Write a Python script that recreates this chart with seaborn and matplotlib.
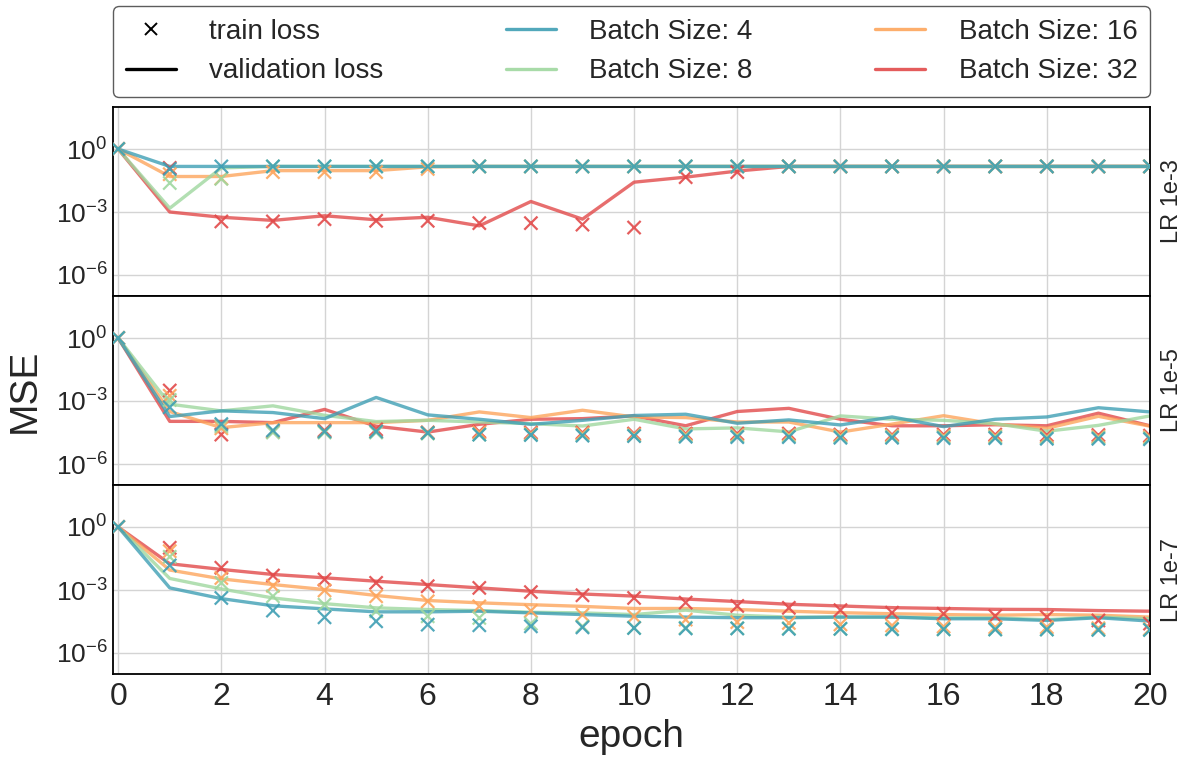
import numpy as np
import pandas as pd
import matplotlib
matplotlib.use("Agg")
import matplotlib.pyplot as plt
from matplotlib.lines import Line2D
import matplotlib.ticker as mticker
import seaborn as sns

# ---------------- data (log10 of MSE) ----------------
epochs = list(range(21))
batch_sizes = ["4", "8", "16", "32"]
lr_labels = ["LR 1e-3", "LR 1e-5", "LR 1e-7"]

# LR 1e-3
val_lr3_bs4 = [0, -0.83, -0.83, -0.83, -0.83, -0.83, -0.83, -0.83, -0.83, -0.83, -0.83,
               -0.83, -0.83, -0.83, -0.83, -0.83, -0.83, -0.83, -0.83, -0.83, -0.83]
val_lr3_bs8 = [0, -2.82, -0.9, -0.83, -0.83, -0.83, -0.83, -0.83, -0.83, -0.83, -0.83,
               -0.83, -0.83, -0.83, -0.83, -0.83, -0.83, -0.83, -0.83, -0.83, -0.83]
val_lr3_bs16 = [0, -1.31, -1.31, -1.03, -1.03, -1.03, -0.85, -0.83, -0.83, -0.83, -0.83,
                -0.83, -0.83, -0.83, -0.83, -0.83, -0.83, -0.83, -0.83, -0.83, -0.83]
val_lr3_bs32 = [0, -3.0, -3.25, -3.4, -3.18, -3.37, -3.25, -3.66, -2.5, -3.34, -1.58,
                -1.34, -1.05, -0.83, -0.83, -0.83, -0.83, -0.83, -0.83, -0.83, -0.83]
train_lr3_bs4 = [0, -0.95, -0.83, -0.83, -0.83, -0.83, -0.83, -0.83, -0.83, -0.83, -0.83,
                 -0.83, -0.83, -0.83, -0.83, -0.83, -0.83, -0.83, -0.83, -0.83, -0.83]
train_lr3_bs8 = [0, -1.62, -1.42, -0.83, -0.83, -0.83, -0.83, -0.83, -0.83, -0.83, -0.83,
                 -0.83, -0.83, -0.83, -0.83, -0.83, -0.83, -0.83, -0.83, -0.83, -0.83]
train_lr3_bs16 = [0, -1.2, -1.4, -1.1, -1.1, -1.1, -0.95, -0.83, -0.83, -0.83, -0.83,
                  -0.83, -0.83, -0.83, -0.83, -0.83, -0.83, -0.83, -0.83, -0.83, -0.83]
train_lr3_bs32 = [0, -0.9, -3.45, -3.45, -3.34, -3.42, -3.42, -3.53, -3.53, -3.6, -3.74,
                  -1.34, -1.1, -0.83, -0.83, -0.83, -0.83, -0.83, -0.83, -0.83, -0.83]

# LR 1e-5
val_lr5_bs4 = [0, -3.74, -3.47, -3.55, -3.84, -2.83, -3.66, -3.87, -4.11, -3.92, -3.69,
               -3.63, -4.06, -3.9, -4.14, -3.76, -4.22, -3.87, -3.76, -3.32, -3.52]
val_lr5_bs8 = [0, -3.15, -3.47, -3.23, -3.68, -3.98, -3.92, -4.0, -4.08, -4.19, -3.87,
               -4.33, -4.28, -4.47, -3.71, -3.87, -3.92, -4.08, -4.44, -4.16, -3.71]
val_lr5_bs16 = [0, -3.5, -4.27, -4.03, -4.03, -4.03, -3.92, -3.52, -3.79, -3.44, -3.76,
                -3.79, -4.0, -4.0, -4.48, -4.1, -3.7, -4.1, -4.3, -3.73, -4.2]
val_lr5_bs32 = [0, -3.97, -3.97, -4.03, -3.4, -4.2, -4.48, -4.11, -3.87, -3.84, -3.71,
                -4.18, -3.5, -3.35, -3.87, -4.18, -4.18, -4.13, -4.18, -3.58, -4.18]
train_lr5_bs4 = [0, -3.3, -4.1, -4.4, -4.45, -4.45, -4.52, -4.6, -4.62, -4.65, -4.67,
                 -4.7, -4.72, -4.72, -4.75, -4.75, -4.77, -4.77, -4.8, -4.8, -4.82]
train_lr5_bs8 = [0, -2.95, -4.2, -4.5, -4.5, -4.5, -4.55, -4.6, -4.6, -4.62, -4.65,
                 -4.65, -4.67, -4.67, -4.7, -4.7, -4.72, -4.72, -4.75, -4.75, -4.77]
train_lr5_bs16 = [0, -2.75, -4.3, -4.45, -4.45, -4.45, -4.5, -4.5, -4.55, -4.55, -4.6,
                  -4.6, -4.62, -4.62, -4.65, -4.65, -4.67, -4.67, -4.7, -4.7, -4.72]
train_lr5_bs32 = [0, -2.5, -4.6, -4.45, -4.4, -4.35, -4.5, -4.45, -4.5, -4.5, -4.55,
                  -4.55, -4.55, -4.55, -4.6, -4.6, -4.6, -4.6, -4.62, -4.62, -4.65]

# LR 1e-7
val_lr7_bs4 = [0, -2.9, -3.41, -3.75, -3.9, -4.04, -4.04, -4.01, -4.09, -4.17, -4.25,
               -4.29, -4.32, -4.32, -4.29, -4.29, -4.37, -4.37, -4.45, -4.32, -4.48]
val_lr7_bs8 = [0, -2.45, -2.95, -3.38, -3.65, -3.85, -3.93, -3.98, -4.06, -4.09, -4.17,
               -3.96, -4.2, -4.29, -4.29, -4.29, -4.33, -4.33, -4.41, -4.29, -4.37]
val_lr7_bs16 = [0, -2.05, -2.47, -2.74, -2.98, -3.26, -3.5, -3.61, -3.7, -3.78, -3.88,
                -3.88, -3.93, -4.01, -4.08, -4.13, -4.17, -4.2, -4.17, -4.2, -4.29]
val_lr7_bs32 = [0, -1.75, -2.02, -2.26, -2.42, -2.58, -2.74, -2.9, -3.06, -3.19, -3.29,
                -3.43, -3.55, -3.68, -3.76, -3.84, -3.88, -3.92, -3.93, -3.98, -4.01]
train_lr7_bs4 = [0, -1.83, -3.38, -3.98, -4.3, -4.49, -4.65, -4.68, -4.73, -4.78, -4.81,
                 -4.83, -4.83, -4.85, -4.85, -4.87, -4.87, -4.88, -4.88, -4.9, -4.9]
train_lr7_bs8 = [0, -1.42, -2.66, -3.3, -3.7, -4.01, -4.25, -4.33, -4.6, -4.73, -4.8,
                 -4.8, -4.82, -4.82, -4.85, -4.85, -4.87, -4.87, -4.88, -4.88, -4.9]
train_lr7_bs16 = [0, -1.15, -2.43, -2.8, -3.02, -3.3, -3.54, -3.78, -3.99, -4.18, -4.26,
                  -4.41, -4.53, -4.57, -4.64, -4.69, -4.74, -4.77, -4.77, -4.82, -4.85]
train_lr7_bs32 = [0, -0.99, -1.94, -2.31, -2.5, -2.66, -2.82, -2.9, -3.1, -3.25, -3.38,
                  -3.6, -3.76, -3.85, -3.96, -4.08, -4.13, -4.24, -4.29, -4.45, -4.6]

panels = [
    ({"4": val_lr3_bs4, "8": val_lr3_bs8, "16": val_lr3_bs16, "32": val_lr3_bs32},
     {"4": train_lr3_bs4, "8": train_lr3_bs8, "16": train_lr3_bs16, "32": train_lr3_bs32}),
    ({"4": val_lr5_bs4, "8": val_lr5_bs8, "16": val_lr5_bs16, "32": val_lr5_bs32},
     {"4": train_lr5_bs4, "8": train_lr5_bs8, "16": train_lr5_bs16, "32": train_lr5_bs32}),
    ({"4": val_lr7_bs4, "8": val_lr7_bs8, "16": val_lr7_bs16, "32": val_lr7_bs32},
     {"4": train_lr7_bs4, "8": train_lr7_bs8, "16": train_lr7_bs16, "32": train_lr7_bs32}),
]

palette = {"4": "#3f9fb4", "8": "#9fd79f", "16": "#fda55c", "32": "#e24a4a"}
draw_order = ["32", "16", "8", "4"]

# ---------------- style ----------------
sns.set_style("whitegrid")
plt.rcParams['font.family'] = ['Liberation Sans', 'DejaVu Sans']
plt.rcParams['mathtext.fontset'] = 'custom'
plt.rcParams['mathtext.rm'] = 'Liberation Sans'
plt.rcParams['mathtext.it'] = 'Liberation Sans:italic'
plt.rcParams['mathtext.bf'] = 'Liberation Sans:bold'

W, H = 1182, 757
fig, axes = plt.subplots(3, 1, figsize=(W / 100, H / 100), dpi=100, sharex=True)
fig.subplots_adjust(left=113 / W, right=1150 / W, top=1 - 107 / H, bottom=1 - 674 / H, hspace=0)

for ax, (vals, trains), lab in zip(axes, panels, lr_labels):
    rows = []
    for bs in draw_order:
        for e, v, t in zip(epochs, vals[bs], trains[bs]):
            rows.append({"epoch": e, "batch": bs, "val": 10.0 ** v, "train": 10.0 ** t})
    df = pd.DataFrame(rows)
    sns.lineplot(data=df, x="epoch", y="val", hue="batch", hue_order=draw_order,
                 palette=palette, linewidth=2.4, alpha=0.8, legend=False, ax=ax,
                 estimator=None, sort=False)
    sns.scatterplot(data=df, x="epoch", y="train", hue="batch", hue_order=draw_order,
                    palette=palette, marker="x", s=90, linewidth=1.6, alpha=0.9,
                    legend=False, ax=ax, zorder=3)
    ax.set_yscale("log")
    ax.set_ylim(1e-7, 1e2)
    ax.set_yticks([1e-6, 1e-3, 1e0])
    ax.yaxis.set_minor_locator(mticker.NullLocator())
    ax.set_xlim(-0.1, 20)
    ax.set_xticks(range(0, 21, 2))
    ax.set_xlabel("")
    ax.set_ylabel("")
    ax.grid(True, color="#d4d4d4", linewidth=1.0)
    for sp in ax.spines.values():
        sp.set_color("black")
        sp.set_linewidth(1.3)
    ax.tick_params(axis="y", labelsize=19, colors="#262626", pad=4, length=0)
    ax.tick_params(axis="x", labelsize=23, colors="#262626", pad=6, length=0)
    ax.text(1.011, 0.5, lab, rotation=90, transform=ax.transAxes, va="center",
            ha="left", fontsize=17, color="#262626")

axes[-1].set_xlabel("epoch", fontsize=28, color="#262626", labelpad=5)
fig.text(25 / W, 1 - 391 / H, "MSE", rotation=90, ha="center", va="center",
         fontsize=28, color="#262626")

handles = [
    Line2D([], [], marker="x", linestyle="", color="black", markersize=8, markeredgewidth=1.4,
           label="train loss"),
    Line2D([], [], color="black", linewidth=2.4, label="validation loss"),
]
for bs in batch_sizes:
    handles.append(Line2D([], [], color=palette[bs], linewidth=2.4, alpha=0.9,
                          label=f"Batch Size: {bs}"))

leg = fig.legend(handles=handles, loc="lower left",
                 bbox_to_anchor=(113 / W, 1 - 97 / H, 1037 / W, 89 / H),
                 mode="expand", ncol=3, fontsize=20, frameon=True, fancybox=True,
                 handlelength=1.8, handletextpad=1.2, borderaxespad=0, labelspacing=0.5,
                 borderpad=0.45)
leg.get_frame().set_edgecolor("#333333")
leg.get_frame().set_linewidth(1.0)
for t in leg.get_texts():
    t.set_color("#262626")

fig.savefig("out.png", dpi=100)
